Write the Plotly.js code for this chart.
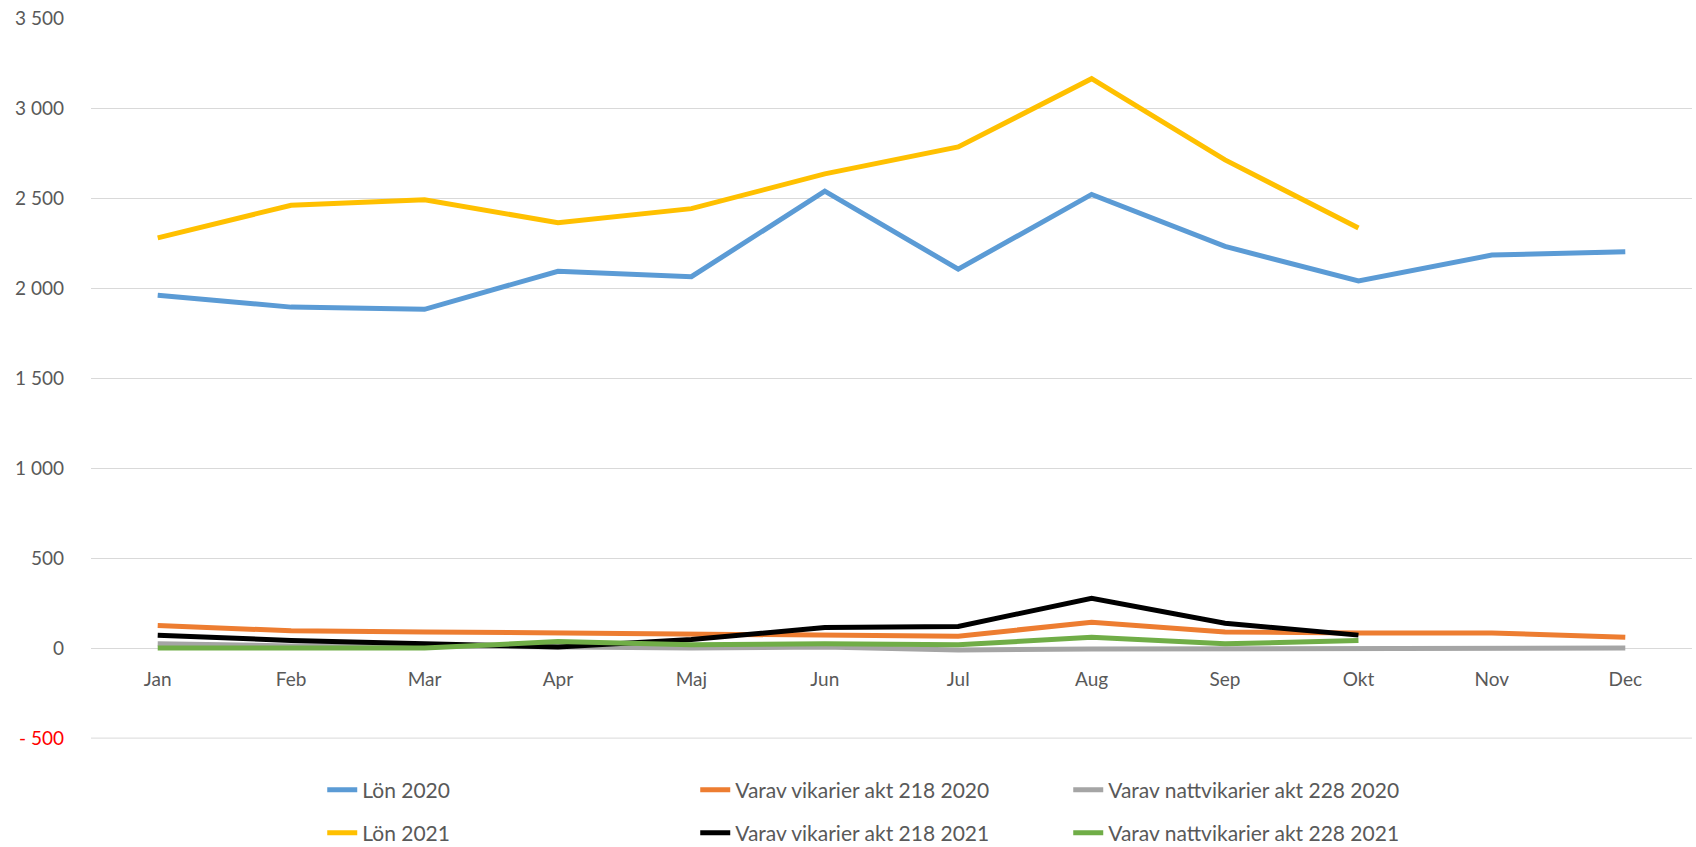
<!DOCTYPE html>
<html>
<head>
<meta charset="utf-8">
<script src="https://cdn.plot.ly/plotly-3.0.1.min.js"></script>
<style>html,body{margin:0;padding:0;background:#fff;}#chart{width:1696px;height:847px;}</style>
</head>
<body>
<div id="chart"></div>
<script>
const months = ["Jan","Feb","Mar","Apr","Maj","Jun","Jul","Aug","Sep","Okt","Nov","Dec"];
const lon2020 = [1960,1894,1882,2093,2063,2538,2105,2520,2231,2039,2183,2201];
const vik2020 = [126,96,90,84,78,72,66,144,90,84,84,60];
const natt2020 = [24,12,12,6,0,6,-10,-5,-5,0,0,0];
const lon2021 = [2279,2460,2490,2363,2441,2634,2784,3163,2712,2333];
const vik2021 = [72,42,24,6,48,114,120,277,138,72];
const natt2021 = [0,0,0,36,18,24,18,60,24,42];
const yTickVals = [-500,0,500,1000,1500,2000,2500,3000,3500];
const yTickText = ['<span style="color:#ff0000">- 500</span>','0','500','1 000','1 500','2 000','2 500','3 000','3 500'];

const W = 5;
function tr(name, y, color, legend){
  return {x: months.slice(0, y.length), y: y, name: name, type:'scatter', mode:'lines',
    line:{color: color, width: W}, legend: legend};
}
const data = [
  tr('Lön 2020', lon2020, '#5b9bd5', 'legend'),
  tr('Varav vikarier akt 218 2020', vik2020, '#ed7d31', 'legend'),
  tr('Varav nattvikarier akt 228 2020', natt2020, '#a5a5a5', 'legend'),
  tr('Lön 2021', lon2021, '#ffc000', 'legend2'),
  tr('Varav vikarier akt 218 2021', vik2021, '#000000', 'legend2'),
  tr('Varav nattvikarier akt 228 2021', natt2021, '#70ad47', 'legend2')
];
const FF = 'Lato, "Liberation Sans", sans-serif';
const legFont = {family:FF, size:21, color:'#595959'};
const legCommon = {orientation:'h', xref:'container', yref:'container', x:0.19, xanchor:'left', yanchor:'middle',
  entrywidth:328, entrywidthmode:'pixels', font:legFont, bgcolor:'rgba(0,0,0,0)', traceorder:'normal'};
const layout = {
  width:1696, height:847,
  margin:{l:91, r:4, t:18, b:108},
  paper_bgcolor:'#fff', plot_bgcolor:'#fff',
  font:{family:FF, size:19, color:'#595959'},
  xaxis:{type:'category', categoryarray: months, range:[-0.5,11.5], anchor:'free', position:0.1255,
    showgrid:false, showline:false, zeroline:false, ticks:'outside', ticklen:14, tickcolor:'rgba(0,0,0,0)',
    tickfont:{size:19, color:'#595959'}},
  yaxis:{range:[-505,3500], tickvals:yTickVals, ticktext:yTickText, showgrid:true, gridcolor:'#d9d9d9', gridwidth:1,
    zeroline:false, showline:false, ticks:'', ticklabelstandoff:26, tickfont:{size:19, color:'#595959'}},
  shapes:[{type:'line', xref:'paper', yref:'y', x0:0, x1:1, y0:-500, y1:-500, line:{color:'#d9d9d9', width:1}, layer:'below'}],
  showlegend:true,
  legend: Object.assign({}, legCommon, {y: 1-790/847}),
  legend2: Object.assign({}, legCommon, {y: 1-833/847})
};
Plotly.newPlot('chart', data, layout, {displayModeBar:false, staticPlot:true});
</script>
</body>
</html>
